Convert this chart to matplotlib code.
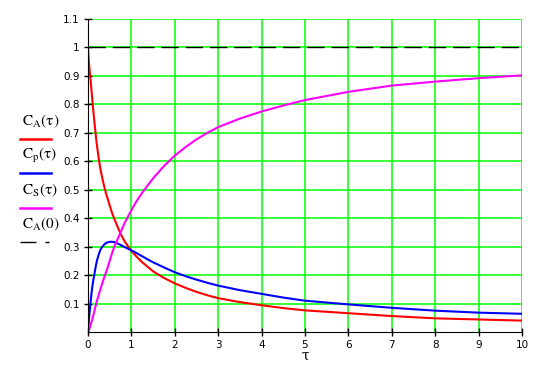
import matplotlib
matplotlib.use("Agg")
import matplotlib.pyplot as plt
from matplotlib.lines import Line2D

# значения
tau = [0, 0.01, 0.02, 0.04, 0.06, 0.08, 0.1, 0.125, 0.15, 0.18, 0.21, 0.25, 0.29, 0.33,
       0.37, 0.41, 0.45, 0.5, 0.55, 0.6, 0.67, 0.75, 0.85, 1.0, 1.1, 1.25, 1.4, 1.5,
       1.75, 2, 2.25, 2.5, 2.75, 3, 3.5, 4, 4.5, 5, 6, 7, 8, 9, 10]
c_a = [1.0, 0.975, 0.95, 0.915, 0.886, 0.85, 0.815, 0.773, 0.735, 0.69, 0.651, 0.607,
       0.569, 0.54, 0.514, 0.49, 0.47, 0.445, 0.42, 0.4, 0.374, 0.345, 0.317, 0.285,
       0.268, 0.245, 0.226, 0.213, 0.19, 0.171, 0.155, 0.141, 0.129, 0.119, 0.105,
       0.094, 0.084, 0.076, 0.066, 0.056, 0.048, 0.044, 0.040]
c_p = [0, 0.02, 0.04, 0.075, 0.106, 0.135, 0.16, 0.185, 0.205, 0.232, 0.253, 0.274,
       0.29, 0.3, 0.307, 0.312, 0.315, 0.317, 0.317, 0.316, 0.312, 0.306, 0.298, 0.287,
       0.279, 0.266, 0.253, 0.245, 0.227, 0.21, 0.196, 0.184, 0.173, 0.163, 0.147,
       0.134, 0.121, 0.11, 0.097, 0.085, 0.075, 0.068, 0.064]
c_s = [0, 0.002, 0.005, 0.014, 0.025, 0.035, 0.045, 0.06, 0.075, 0.094, 0.112, 0.132,
       0.152, 0.172, 0.19, 0.208, 0.225, 0.25, 0.275, 0.297, 0.322, 0.35, 0.385, 0.428,
       0.455, 0.49, 0.52, 0.54, 0.583, 0.62, 0.65, 0.677, 0.7, 0.72, 0.75,
       0.775, 0.796, 0.815, 0.844, 0.866, 0.88, 0.892, 0.902]
c_a0 = 1.0

x_ticks = list(range(0, 11))
y_ticks = [0.1, 0.2, 0.3, 0.4, 0.5, 0.6, 0.7, 0.8, 0.9, 1.0, 1.1]
y_labels = ["0.1", "0.2", "0.3", "0.4", "0.5", "0.6", "0.7", "0.8", "0.9", "1", "1.1"]

names = [r"$\mathrm{C_A(\tau)}$", r"$\mathrm{C_p(\tau)}$",
         r"$\mathrm{C_S(\tau)}$", r"$\mathrm{C_A(0)}$"]
colors = ["#ff0000", "#0000ff", "#ff00ff", "#000000"]

plt.rcParams["mathtext.fontset"] = "stix"

fig = plt.figure(figsize=(5.51, 3.71), dpi=100)
ax = fig.add_axes([88 / 551, 1 - 332 / 371, 434 / 551, 313 / 371])

ax.plot(tau, c_a, color=colors[0], lw=1.5)
ax.plot(tau, c_p, color=colors[1], lw=1.5)
ax.plot(tau, c_s, color=colors[2], lw=1.5)
ax.axhline(c_a0, color=colors[3], lw=1.0, dashes=(12.5, 5))

ax.set_xlim(0, 10)
ax.set_ylim(0, 1.1)
ax.set_xticks(x_ticks)
ax.set_yticks(y_ticks)
ax.set_yticklabels(y_labels)
ax.grid(True, color="#00ff00", lw=1.1)
ax.set_axisbelow(True)
for s in ["top", "right"]:
    ax.spines[s].set_visible(False)
ax.tick_params(direction="inout", length=6, width=1, labelsize=7.5, pad=3)
ax.set_xlabel("τ", fontsize=10, va="center", family="DejaVu Serif")
ax.xaxis.set_label_coords(0.5, (332 - 356) / 313)

# легенда слева: подпись над линией
label_y = [121, 155, 190, 224]
line_y = [139, 173, 208, 242]
for name, col, ly, hy in zip(names, colors, label_y, line_y):
    fig.text(22 / 551, 1 - ly / 371, name, fontsize=11, va="center", ha="left")
    if col == "#000000":
        fig.add_artist(Line2D([20 / 551, 49 / 551], [1 - hy / 371] * 2,
                              color=col, lw=1.0, dashes=(11.5, 6.5, 3, 50)))
    else:
        fig.add_artist(Line2D([20 / 551, 51 / 551], [1 - hy / 371] * 2,
                              color=col, lw=1.8))

fig.savefig("out.png", dpi=100)
